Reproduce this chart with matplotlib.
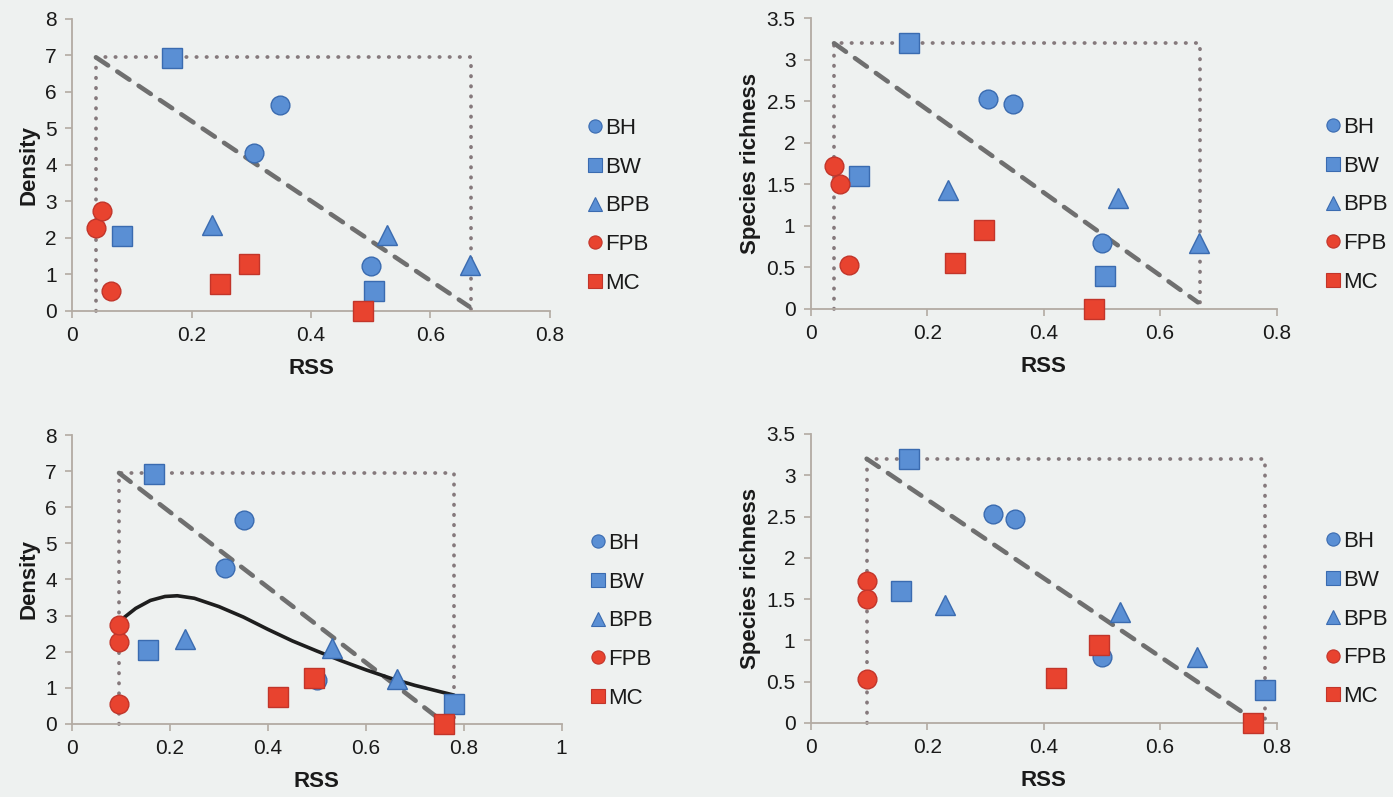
import matplotlib
matplotlib.use("Agg")
import matplotlib.pyplot as plt
from matplotlib.lines import Line2D

plt.rcParams['font.family'] = ['Liberation Sans', 'DejaVu Sans']

BG = "#eef1f0"
BLUE = "#5a8fd4"
BLUE_EDGE = "#3a6bb0"
RED = "#e8432f"
RED_EDGE = "#c2352a"
SPINE = "#b3aba3"
DOT = "#85797c"
DASH = "#6f6f6f"

sites = ["BH", "BW", "BPB", "FPB", "MC"]
markers = ["o", "s", "^", "o", "s"]
msizes = [13.5, 14.5, 14.0, 13.5, 14.5]

# density and species richness per site (3 points each)
density = {
    "BH": [4.33, 5.65, 1.22],
    "BW": [6.93, 2.05, 0.55],
    "BPB": [2.36, 2.09, 1.25],
    "FPB": [2.27, 2.75, 0.55],
    "MC": [0.74, 1.28, 0.0],
}
richness = {
    "BH": [2.53, 2.47, 0.80],
    "BW": [3.20, 1.60, 0.40],
    "BPB": [1.43, 1.34, 0.80],
    "FPB": [1.72, 1.50, 0.53],
    "MC": [0.55, 0.95, 0.0],
}

# RSS used in the top row and in the bottom row
rss_top = {
    "BH": [0.305, 0.348, 0.500],
    "BW": [0.168, 0.083, 0.505],
    "BPB": [0.235, 0.527, 0.667],
    "FPB": [0.040, 0.051, 0.065],
    "MC": [0.248, 0.297, 0.487],
}
rss_bottom = {
    "BH": [0.313, 0.351, 0.500],
    "BW": [0.168, 0.155, 0.780],
    "BPB": [0.231, 0.531, 0.664],
    "FPB": [0.096, 0.096, 0.096],
    "MC": [0.421, 0.495, 0.760],
}

# boundary box (x min, x max) and dashed limit lines
box_top_x = [0.040, 0.668]
box_bottom_x = [0.096, 0.780]
dens_max = 6.95
rich_max = 3.2
dash_top_x = [0.040, 0.665]
dash_bottom_x = [0.096, 0.752]
dash_dens_y = [6.95, 0.12]
dash_rich_y = [3.20, 0.08]

# fitted curve in bottom-left panel
curve_x = [0.100, 0.130, 0.160, 0.190, 0.215, 0.250, 0.300, 0.350, 0.400,
           0.450, 0.500, 0.550, 0.600, 0.650, 0.700, 0.750, 0.780]
curve_y = [2.88, 3.20, 3.42, 3.53, 3.55, 3.48, 3.25, 2.96, 2.62,
           2.30, 2.02, 1.75, 1.50, 1.27, 1.07, 0.90, 0.80]

xt_08 = [0, 0.2, 0.4, 0.6, 0.8]
xl_08 = ["0", "0.2", "0.4", "0.6", "0.8"]
xt_1 = [0, 0.2, 0.4, 0.6, 0.8, 1.0]
xl_1 = ["0", "0.2", "0.4", "0.6", "0.8", "1"]
yt_dens = [0, 1, 2, 3, 4, 5, 6, 7, 8]
yt_rich = [0, 0.5, 1, 1.5, 2, 2.5, 3, 3.5]
yl_rich = ["0", "0.5", "1", "1.5", "2", "2.5", "3", "3.5"]

fig = plt.figure(figsize=(13.93, 7.97), dpi=100)
fig.patch.set_facecolor(BG)


def style_axes(ax, xt, xl, yt, yl, xmax, ymax, ylabel):
    ax.set_facecolor(BG)
    ax.set_xlim(0, xmax)
    ax.set_ylim(0, ymax)
    for s in ["top", "right"]:
        ax.spines[s].set_visible(False)
    for s in ["left", "bottom"]:
        ax.spines[s].set_color(SPINE)
        ax.spines[s].set_linewidth(1.3)
    ax.set_xticks(xt)
    ax.set_xticklabels(xl)
    ax.set_yticks(yt)
    ax.set_yticklabels(yl)
    ax.tick_params(direction="out", length=5, width=1.2, color=SPINE,
                   labelsize=15, labelcolor="#1a1a1a", pad=6)
    ax.set_xlabel("RSS", fontsize=16, fontweight="bold", color="#1a1a1a", labelpad=9)
    ax.set_ylabel(ylabel, fontsize=16, fontweight="bold", color="#1a1a1a", labelpad=4)


def draw_panel(ax, rss, vals, box_x, vmax, dash_x, dash_y):
    # dotted bounding box
    ax.plot([box_x[0], box_x[0], box_x[1], box_x[1]], [0, vmax, vmax, 0],
            color=DOT, lw=2.7, ls=(0, (0.1, 2.6)), dash_capstyle="round",
            zorder=2, clip_on=False)
    ax.plot(dash_x, dash_y, color=DASH, lw=3.3, ls=(0, (3.2, 2.4)),
            dash_capstyle="round", zorder=2, clip_on=False)
    for i, s in enumerate(sites):
        fc = BLUE if i < 3 else RED
        ec = BLUE_EDGE if i < 3 else RED_EDGE
        ax.plot(rss[s], vals[s], ls="none", marker=markers[i], ms=msizes[i],
                mfc=fc, mec=ec, mew=1.0, zorder=4, clip_on=False)
    handles = []
    for i, s in enumerate(sites):
        fc = BLUE if i < 3 else RED
        ec = BLUE_EDGE if i < 3 else RED_EDGE
        handles.append(Line2D([], [], ls="none", marker=markers[i], ms=9.5,
                              mfc=fc, mec=ec, mew=0.8, label=s))
    return handles


axes_pos = [
    [0.0517, 0.6098, 0.3431, 0.3664],
    [0.5820, 0.6123, 0.3344, 0.3647],
    [0.0517, 0.0916, 0.3515, 0.3626],
    [0.5820, 0.0929, 0.3344, 0.3626],
]
legend_anchor = [(1.078, 0.36), (1.105, 0.358), (1.058, 0.357), (1.105, 0.359)]

ax1 = fig.add_axes(axes_pos[0])
style_axes(ax1, xt_08, xl_08, yt_dens, [str(v) for v in yt_dens], 0.8, 8, "Density")
h = draw_panel(ax1, rss_top, density, box_top_x, dens_max, dash_top_x, dash_dens_y)

ax2 = fig.add_axes(axes_pos[1])
style_axes(ax2, xt_08, xl_08, yt_rich, yl_rich, 0.8, 3.5, "Species richness")
draw_panel(ax2, rss_top, richness, box_top_x, rich_max, dash_top_x, dash_rich_y)

ax3 = fig.add_axes(axes_pos[2])
style_axes(ax3, xt_1, xl_1, yt_dens, [str(v) for v in yt_dens], 1.0, 8, "Density")
draw_panel(ax3, rss_bottom, density, box_bottom_x, dens_max, dash_bottom_x, dash_dens_y)
ax3.plot(curve_x, curve_y, color="#1e1e1e", lw=2.6, zorder=3,
         solid_capstyle="round", solid_joinstyle="round")

ax4 = fig.add_axes(axes_pos[3])
style_axes(ax4, xt_08, xl_08, yt_rich, yl_rich, 0.8, 3.5, "Species richness")
draw_panel(ax4, rss_bottom, richness, box_bottom_x, rich_max, dash_bottom_x, dash_rich_y)

for ax, anc in zip([ax1, ax2, ax3, ax4], legend_anchor):
    ax.legend(handles=h, loc="center left", bbox_to_anchor=anc, frameon=False,
              fontsize=16, handlelength=0.7, handletextpad=0.1,
              borderpad=0, borderaxespad=0, labelspacing=0.8,
              labelcolor="#1a1a1a")

fig.savefig("out.png", dpi=100, facecolor=BG)
